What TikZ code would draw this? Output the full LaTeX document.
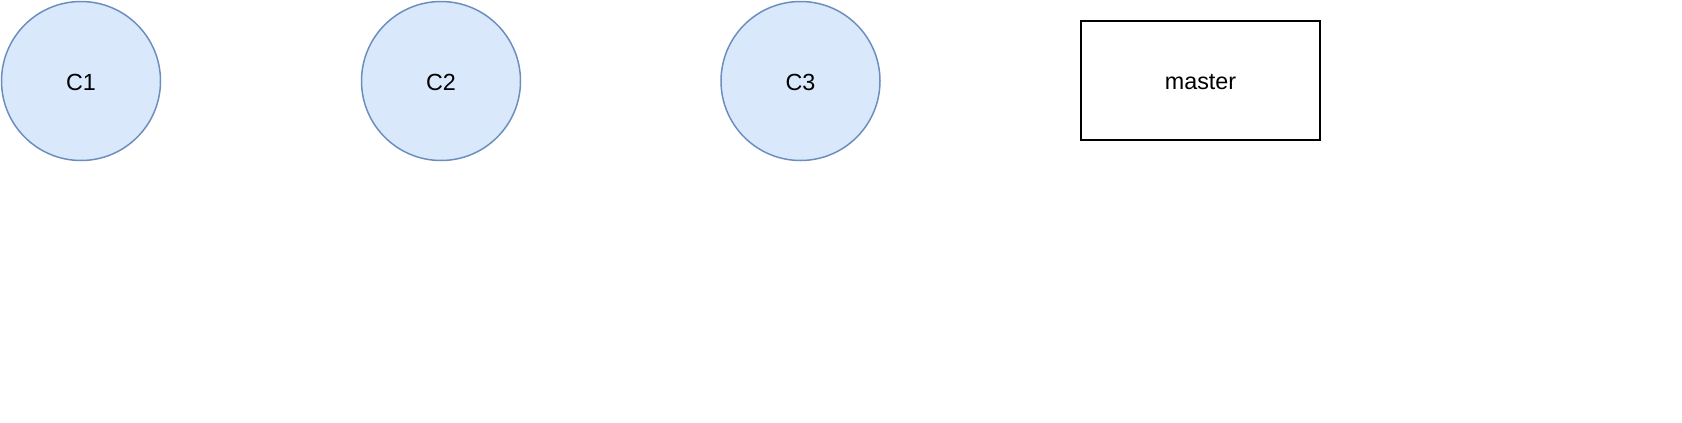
\documentclass[tikz,border=0pt]{standalone}
\usepackage{fontspec}
\setmainfont{Liberation Sans}
\begin{document}
\begin{tikzpicture}[x=0.75pt,y=-0.75pt,
  commit/.style={circle,draw=blueline,fill=bluefill,line width=1.5pt*0.75,minimum size=159*0.75pt,inner sep=0pt,font=\fontsize{17.5}{20}\selectfont},
  branch/.style={rectangle,draw=black,line width=2pt*0.75,minimum width=239*0.75pt,minimum height=119*0.75pt,inner sep=0pt,font=\fontsize{17.5}{20}\selectfont},
  lbl/.style={inner sep=0pt,font=\fontsize{17.5}{20}\selectfont}]
\definecolor{blueline}{HTML}{6C8EBF}
\definecolor{bluefill}{HTML}{DAE8FC}
\useasboundingbox (0,0) rectangle (1682,422);
\node[commit] (c1) at (81,81) {};
\node[commit] (c2) at (441,81) {};
\node[commit] (c3) at (800.5,81) {};
\node[branch] (m) at (1200.5,80.5) {};
\node[lbl] (t1) at (81,82) {C1};
\node[lbl] (t2) at (441,82) {C2};
\node[lbl] (t3) at (800.5,82) {C3};
\node[lbl] (tm) at (1200.5,82) {master};
\end{tikzpicture}
\end{document}
